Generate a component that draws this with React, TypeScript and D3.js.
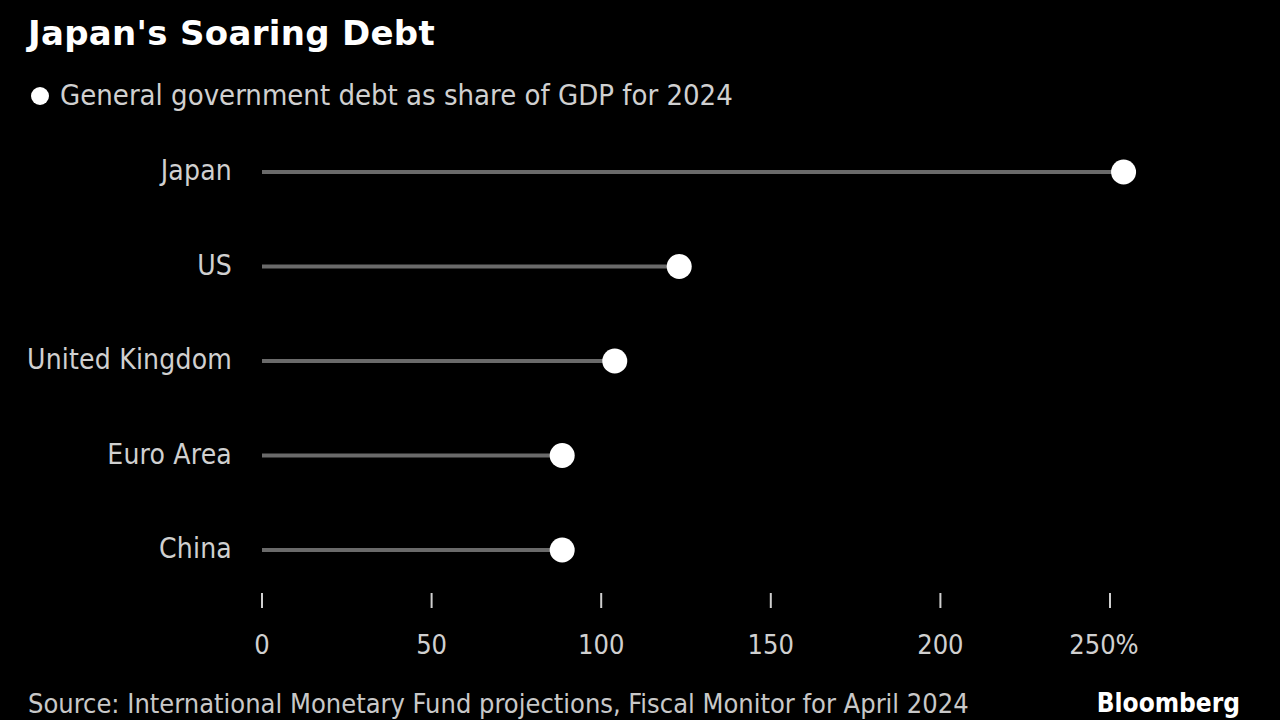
import React from "react";
import * as d3 from "d3";

const categories = ["Japan", "US", "United Kingdom", "Euro Area", "China"];
const values = [254, 123, 104, 88.5, 88.5];
const tickValues = [0, 50, 100, 150, 200, 250];
const tickLabels = ["0", "50", "100", "150", "200", "250%"];

const title = "Japan's Soaring Debt";
const legendText = "General government debt as share of GDP for 2024";
const sourceText = "Source: International Monetary Fund projections, Fiscal Monitor for April 2024";

const W = 1280;
const H = 720;
const FONT = "'DejaVu Sans Condensed', 'DejaVu Sans', sans-serif";

export default function App() {
  const x = d3.scaleLinear().domain([0, 250]).range([262, 1110]);
  const y = d3.scalePoint<string>().domain(categories).range([172, 550]);

  return (
    <svg
      width={W}
      height={H}
      style={{ position: "absolute", left: 0, top: 0, background: "#000" }}
    >
      <rect x={0} y={0} width={W} height={H} fill="#000" />
      <text
        x={28}
        y={45}
        fill="#fff"
        fontFamily="'DejaVu Sans', sans-serif"
        fontWeight="bold"
        fontSize={34}
        letterSpacing={0.3}
      >
        {title}
      </text>
      <circle cx={40} cy={96} r={9} fill="#fff" />
      <text x={60} y={105} fill="#d0d0d0" fontFamily={FONT} fontSize={29}>
        {legendText}
      </text>

      {categories.map((c, i) => (
        <g key={c}>
          <text
            x={232}
            y={(y(c) as number) + 8}
            textAnchor="end"
            fill="#d0d0d0"
            fontFamily={FONT}
            fontSize={28}
            letterSpacing={0.2}
          >
            {c}
          </text>
          <line
            x1={x(0)}
            x2={x(values[i])}
            y1={y(c)}
            y2={y(c)}
            stroke="#6a6a6a"
            strokeWidth={4}
          />
          <circle cx={x(values[i])} cy={y(c)} r={12.5} fill="#fff" />
        </g>
      ))}

      {tickValues.map((t, i) => (
        <g key={t}>
          <line x1={x(t)} x2={x(t)} y1={593} y2={608} stroke="#cfcfcf" strokeWidth={2} />
          <text
            x={x(t)}
            y={654}
            textAnchor="middle"
            dx={i === tickValues.length - 1 ? -6 : 0}
            fill="#d0d0d0"
            fontFamily={FONT}
            fontSize={27}
          >
            {tickLabels[i]}
          </text>
        </g>
      ))}

      <text x={28} y={713} fill="#c8c8c8" fontFamily={FONT} fontSize={27}>
        {sourceText}
      </text>
      <text x={1240} y={712} textAnchor="end" fill="#fff" fontFamily={FONT} fontWeight="bold" fontSize={26}>
        Bloomberg
      </text>
    </svg>
  );
}
